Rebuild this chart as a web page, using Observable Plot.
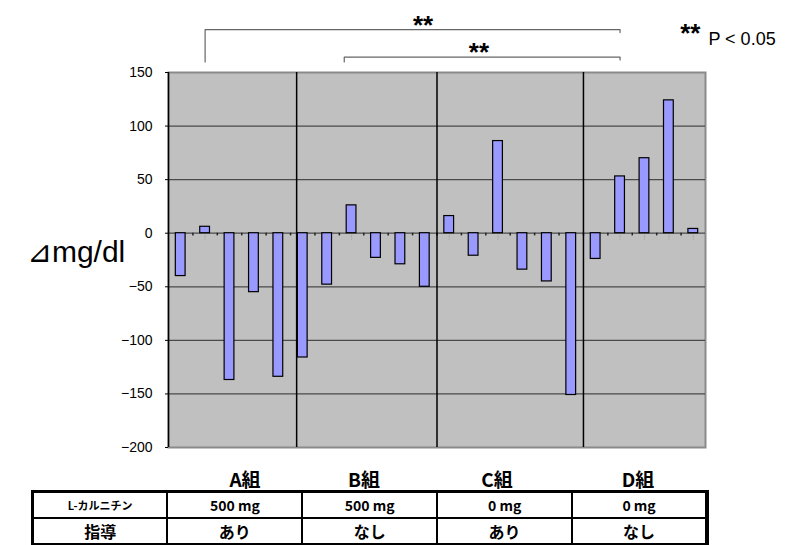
<!DOCTYPE html>
<html>
<head>
<meta charset="utf-8">
<script src="https://cdn.jsdelivr.net/npm/d3@7"></script>
<script src="https://cdn.jsdelivr.net/npm/@observablehq/plot@0.6"></script>
<style>
  html, body { margin: 0; padding: 0; background: #fff; }
  #wrap { position: relative; width: 787px; height: 545px; overflow: hidden; font-family: "Liberation Sans", Arial, sans-serif; }
  #wrap svg { position: absolute; left: 0; top: 0; }
  .grp { position: absolute; top: 468px; width: 80px; margin-left: -40px; text-align: center;
         font-family: "Noto Sans CJK JP", sans-serif; font-weight: bold; font-size: 19px; line-height: 22px; }
  #tbl { position: absolute; left: 31px; top: 490px; width: 678px; border-collapse: collapse; table-layout: fixed;
         font-family: "Noto Sans CJK JP", sans-serif; font-weight: bold; }
  #tbl td { border: 2px solid #000; height: 24px; padding: 0; text-align: center; line-height: 24px; }
  #tbl tr:first-child td { border-top: 3px solid #000; }
  #tbl td:first-child { border-left: 3px solid #000; }
  #tbl td:last-child { border-right: 4px solid #000; }
  .r1 td { font-size: 14px; }
  .r1 td:first-child { font-size: 11px; }
  .r2 td { font-size: 16px; }
</style>
</head>
<body>
<div id="wrap"></div>
<script>
// ---- data ----
const groups = ["A組", "B組", "C組", "D組"];
const groupSizes = [5, 6, 6, 5];
const values = [-40, 6, -137, -55, -134,
                -116, -48, 26, -23, -29, -50,
                16, -21, 86, -34, -45, -151,
                -24, 53, 70, 124, 4];
const yTicks = [-200, -150, -100, -50, 0, 50, 100, 150];
const dividers = [5.25, 11, 17];
const rowLabels = ["L-カルニチン", "指導"];
const carnitine = ["500 mg", "500 mg", "0 mg", "0 mg"];
const guidance = ["あり", "なし", "あり", "なし"];
// significance brackets (x in bar slots, y in mg/dl units)
const bracketStart = [1.5, 7.2];
const bracketEnd = [18.5, 18.5];
const bracketTop = [190, 164.3];
const bracketLeftDrop = [159.8, 159.8];
const bracketRightDrop = [187.3, 161.7];
const starX = [10.43, 12.72];
const starY = [186.2, 160.6];
const legendStars = "**";
const legendText = "P < 0.05";
const yLabel = "⊿mg/dl";
const groupCenters = [245, 364, 497, 638];

// ---- derived ----
const bars = values.map((v, i) => ({i, v}));
const n = values.length;
const boundaries = d3.range(1, n);
const bracketPaths = bracketStart.flatMap((s, k) => [
  {k, x: s, y: bracketLeftDrop[k]},
  {k, x: s, y: bracketTop[k]},
  {k, x: bracketEnd[k], y: bracketTop[k]},
  {k, x: bracketEnd[k], y: bracketRightDrop[k]}
]);
const grid = yTicks.filter(t => t > -200 && t < 150);

const chart = Plot.plot({
  width: 787,
  height: 545,
  marginLeft: 168,
  marginRight: 82,
  marginTop: 72,
  marginBottom: 98,
  style: {fontFamily: "'Liberation Sans', Arial, sans-serif", background: "transparent", overflow: "visible"},
  x: {domain: [0, n], axis: null},
  y: {domain: [-200, 150], axis: null},
  marks: [
    Plot.frame({fill: "#c0c0c0", stroke: "#8a8a8a", strokeWidth: 2}),
    Plot.ruleY(grid, {stroke: "#4a4a4a", strokeWidth: 1.2}),
    Plot.ruleX(boundaries, {y1: 0, y2: -2.5, stroke: "#222", strokeWidth: 1.5}),
    Plot.ruleX(dividers, {stroke: "#000", strokeWidth: 1.5}),
    Plot.rectY(bars, {x1: d => d.i + 0.3, x2: d => d.i + 0.7, y1: 0, y2: "v",
      fill: "#9999ff", stroke: "#000", strokeWidth: 1.2}),
    Plot.ruleX(bars, {x: d => d.i + 0.5, y1: -2, y2: -7, stroke: "#a8a8a8", strokeDasharray: "3,1"}),
    Plot.ruleX([0], {stroke: "#000", strokeWidth: 1.5}),
    Plot.axisY({ticks: yTicks, tickSize: 3, tickPadding: 13, fontSize: 14, tickFormat: d3.format("d"),
      label: null, stroke: "#000"}),
    Plot.line(bracketPaths, {x: "x", y: "y", z: "k", stroke: "#666", strokeWidth: 1.2, clip: false}),
    Plot.text(starX.map((x, k) => ({x, y: starY[k]})), {x: "x", y: "y", text: () => "**",
      fontSize: 26, fontWeight: "bold", lineAnchor: "bottom", textAnchor: "middle"}),
    Plot.text([{x: 21.38, y: 178.2}], {x: "x", y: "y", text: () => legendStars,
      fontSize: 26, fontWeight: "bold", lineAnchor: "bottom", textAnchor: "middle"}),
    Plot.text([{x: 22.12, y: 175.3}], {x: "x", y: "y", text: () => legendText,
      fontSize: 18, lineAnchor: "bottom", textAnchor: "start"}),
    Plot.text([{x: -5.8, y: -27.3}], {x: "x", y: "y", text: () => yLabel,
      fontSize: 30, lineAnchor: "bottom", textAnchor: "start"})
  ]
});

const wrap = document.getElementById("wrap");
wrap.appendChild(chart);

groups.forEach((g, k) => {
  const d = document.createElement("div");
  d.className = "grp";
  d.style.left = groupCenters[k] + "px";
  d.textContent = g;
  wrap.appendChild(d);
});

const tbl = document.createElement("table");
tbl.id = "tbl";
const rows = [[rowLabels[0], ...carnitine], [rowLabels[1], ...guidance]];
rows.forEach((r, ri) => {
  const tr = document.createElement("tr");
  tr.className = ri === 0 ? "r1" : "r2";
  r.forEach(c => { const td = document.createElement("td"); td.textContent = c; tr.appendChild(td); });
  tbl.appendChild(tr);
});
wrap.appendChild(tbl);
</script>
</body>
</html>
